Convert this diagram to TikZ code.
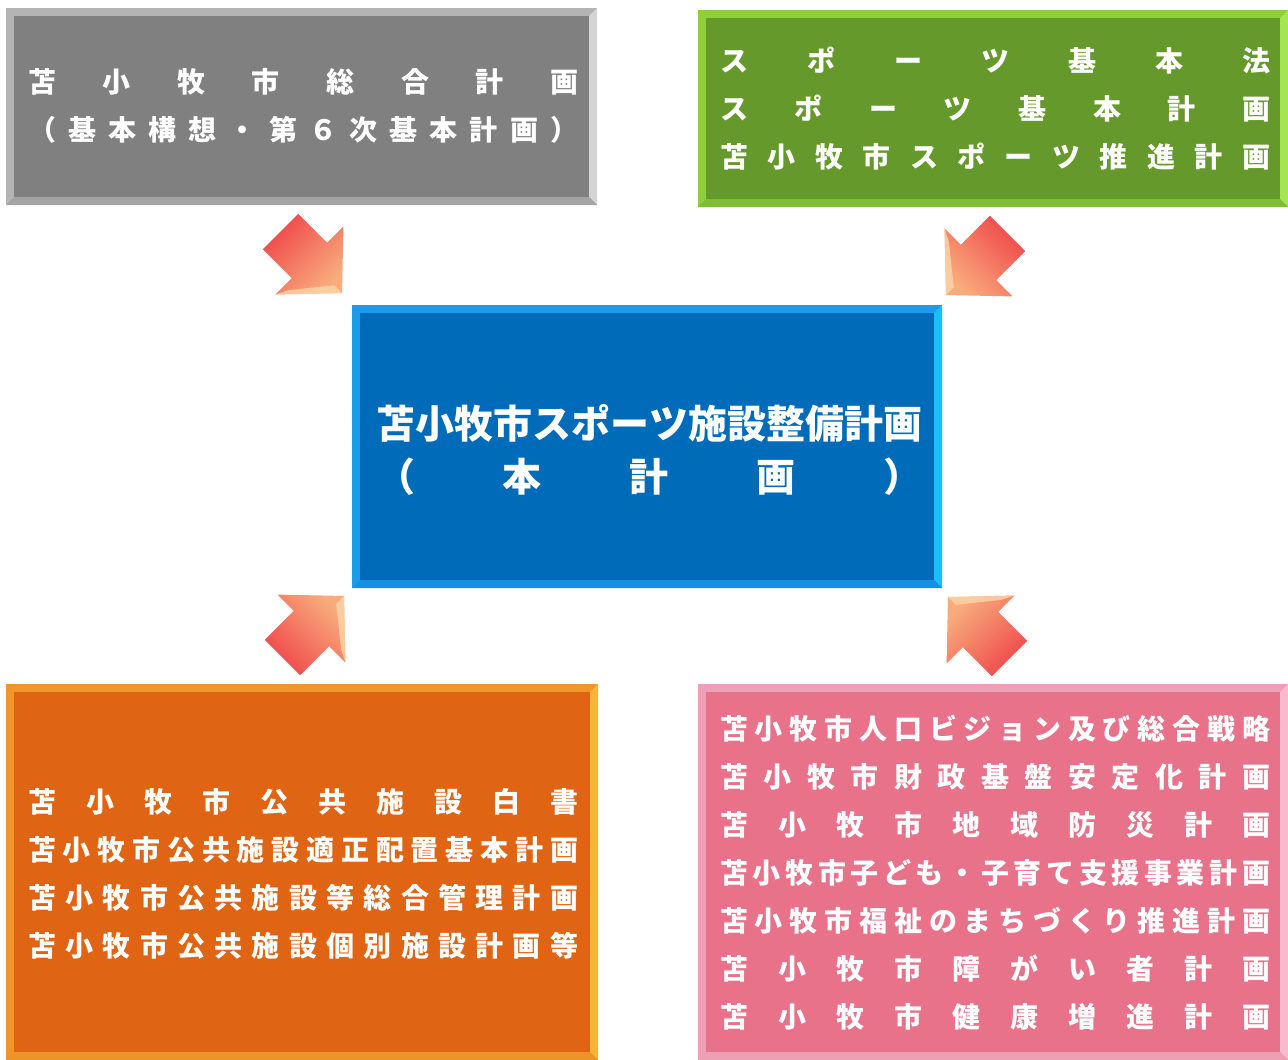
\documentclass[tikz,border=0pt]{standalone}
\usepackage{fontspec}
\newfontfamily\jp{Noto Sans CJK JP}
\usetikzlibrary{calc}
\definecolor{grayin}{HTML}{808080}\definecolor{graybv}{HTML}{B4B4B4}\definecolor{graybd}{HTML}{A4A4A4}\definecolor{graybl}{HTML}{D4D4D4}
\definecolor{greenin}{HTML}{66992B}\definecolor{greenbv}{HTML}{8DCF3D}\definecolor{greenbd}{HTML}{7DBE35}\definecolor{greenbl}{HTML}{A6E552}
\definecolor{bluein}{HTML}{006CB9}\definecolor{bluebv}{HTML}{1A9CE8}\definecolor{bluebd}{HTML}{1690E0}\definecolor{bluebl}{HTML}{19BFFB}
\definecolor{orangein}{HTML}{DF6413}\definecolor{orangebv}{HTML}{F0962A}\definecolor{orangebd}{HTML}{EC9428}\definecolor{orangebl}{HTML}{F6B532}
\definecolor{pinkin}{HTML}{E87289}\definecolor{pinkbv}{HTML}{EFA0B6}\definecolor{pinkbd}{HTML}{EDA0B4}\definecolor{pinkbl}{HTML}{F6BCCD}
\definecolor{arrred}{HTML}{F0474A}\definecolor{arrpeach}{HTML}{F8AC7C}\definecolor{arrpale}{HTML}{FCD9AE}
\def\sprdend{}
\def\sprdA#1{\ifx#1\sprdend\else#1\expandafter\sprdB\fi}
\def\sprdB#1{\ifx#1\sprdend\else\hfill#1\expandafter\sprdB\fi}
\newcommand\sprd[2]{\makebox[#1pt][s]{\sprdA#2\sprdend}}
% bevelled box: name, x1, y1, x2, y2, inner, top/left bevel, bottom bevel, right bevel
\newcommand\bevbox[9]{%
  \fill[#7] (#2,#3) rectangle (#4,#5);
  \fill[#9] (#4,#3) -- (#4,#5) -- (#4-8,#5-8) -- (#4-8,#3+8) -- cycle;
  \fill[#8] (#2,#5) -- (#4,#5) -- (#4-8,#5-8) -- (#2+8,#5-8) -- cycle;
  \node[inner sep=0pt, fill=#6, anchor=north west, minimum width={#4-#2-16}, minimum height={#5-#3-16}] (#1) at (#2+8,#3+8) {};
}
% block arrow: name, x, y (tail middle), direction angle (pixel frame), shading options
\newcommand\blockarrow[5]{%
  \coordinate (#1) at (#2,#3);
  \shade[#5] ($(#1)+(#4+90:25)$) -- ($(#1)+(#4:41)+(#4+90:25)$) -- ($(#1)+(#4:41)+(#4+90:48)$)
     -- ($(#1)+(#4:87)$) -- ($(#1)+(#4:41)+(#4-90:48)$) -- ($(#1)+(#4:41)+(#4-90:25)$)
     -- ($(#1)+(#4-90:25)$) -- cycle;
  \fill[arrpale, opacity=.75] ($(#1)+(#4:41)+(#4+90:48)$) -- ($(#1)+(#4:87)$) -- ($(#1)+(#4:76)$)
     -- ($(#1)+(#4:47)+(#4+90:36)$) -- cycle;
}
\tikzset{
  txt/.style={text=white, inner sep=0pt, anchor=west, font=\jp\bfseries\fontsize{28}{28}\selectfont},
  bigtxt/.style={text=white, inner sep=0pt, anchor=west, font=\jp\bfseries\fontsize{39}{39}\selectfont},
}
\begin{document}
\begin{tikzpicture}[x=1pt, y=-1pt]
\useasboundingbox[fill=white] (0,0) rectangle (1288,1060);
% boxes
\bevbox{general}{6}{8}{597}{205}{grayin}{graybv}{graybd}{graybl}
\bevbox{sports}{698}{10}{1288}{207}{greenin}{greenbv}{greenbd}{greenbl}
\bevbox{main}{352}{305}{942}{588}{bluein}{bluebv}{bluebd}{bluebl}
\bevbox{facility}{6}{684}{598}{1060}{orangein}{orangebv}{orangebd}{orangebl}
\bevbox{related}{698}{684}{1288}{1060}{pinkin}{pinkbv}{pinkbd}{pinkbl}
% arrows
\blockarrow{aTL}{280.5}{231.5}{45}{top color=arrred, bottom color=arrpeach, shading angle=45}
\blockarrow{aTR}{1007.5}{233.5}{135}{top color=arrred, bottom color=arrpeach, shading angle=-45}
\blockarrow{aBL}{282.5}{657.5}{-45}{top color=arrpeach, bottom color=arrred, shading angle=-45}
\blockarrow{aBR}{1009.5}{658.5}{-135}{top color=arrpeach, bottom color=arrred, shading angle=45}
% texts: general plan
\node[txt] (g1) at (28,82) {\sprd{550}{苫小牧市総合計画}};
\node[txt] (g2) at (28,130) {\sprd{550}{（基本構想・第６次基本計画）}};
% sports laws
\node[txt] (s1) at (720,61) {\sprd{550}{スポーツ基本法}};
\node[txt] (s2) at (720,109) {\sprd{550}{スポーツ基本計画}};
\node[txt] (s3) at (720,157) {\sprd{550}{苫小牧市スポーツ推進計画}};
% main plan
\node[bigtxt] (m1) at (376,423) {\sprd{546}{苫小牧市スポーツ施設整備計画}};
\node[bigtxt] (m2) at (376,477) {\sprd{546}{（本計画）}};
% facility plans
\node[txt] (f1) at (28,802) {\sprd{550}{苫小牧市公共施設白書}};
\node[txt] (f2) at (28,850) {\sprd{550}{苫小牧市公共施設適正配置基本計画}};
\node[txt] (f3) at (28,898) {\sprd{550}{苫小牧市公共施設等総合管理計画}};
\node[txt] (f4) at (28,946) {\sprd{550}{苫小牧市公共施設個別施設計画等}};
% related plans
\node[txt] (r1) at (720,729) {\sprd{550}{苫小牧市人口ビジョン及び総合戦略}};
\node[txt] (r2) at (720,777) {\sprd{550}{苫小牧市財政基盤安定化計画}};
\node[txt] (r3) at (720,825) {\sprd{550}{苫小牧市地域防災計画}};
\node[txt] (r4) at (720,873) {\sprd{550}{苫小牧市子ども・子育て支援事業計画}};
\node[txt] (r5) at (720,921) {\sprd{550}{苫小牧市福祉のまちづくり推進計画}};
\node[txt] (r6) at (720,969) {\sprd{550}{苫小牧市障がい者計画}};
\node[txt] (r7) at (720,1017) {\sprd{550}{苫小牧市健康増進計画}};
\end{tikzpicture}
\end{document}
